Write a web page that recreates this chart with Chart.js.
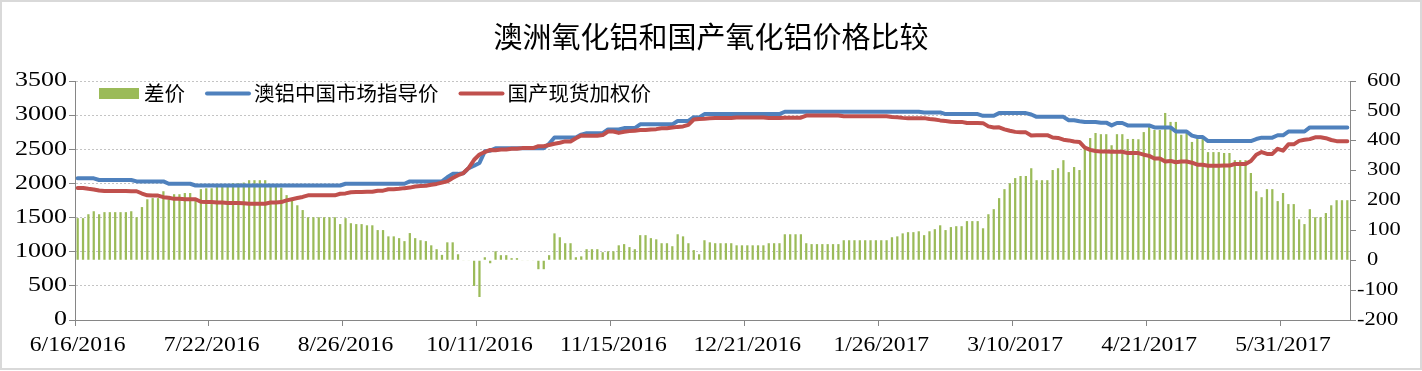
<!DOCTYPE html>
<html>
<head>
<meta charset="utf-8">
<title>澳洲氧化铝和国产氧化铝价格比较</title>
<script src="https://cdn.jsdelivr.net/npm/chart.js@4.4.1/dist/chart.umd.min.js"></script>
<style>
  html, body { margin: 0; padding: 0; background: #fff; }
  canvas { display: block; }
</style>
</head>
<body>
<canvas id="myChart" width="1422" height="371"></canvas>
<script>
const chartTitle = "澳洲氧化铝和国产氧化铝价格比较";

// one label every 25 trading days
const tickLabels = ["6/16/2016", "7/22/2016", "8/26/2016", "10/11/2016", "11/15/2016",
                    "12/21/2016", "1/26/2017", "3/10/2017", "4/21/2017", "5/31/2017"];

const leftTicks = [0, 500, 1000, 1500, 2000, 2500, 3000, 3500];
const rightTicks = [-200, -100, 0, 100, 200, 300, 400, 500, 600];

const diffLabel = "差价";
const ausLabel = "澳铝中国市场指导价";
const domLabel = "国产现货加权价";

// 差价 (right axis)
const diffVals = [
  141,141,154,164,154,161,161,161,161,161,
  164,144,178,204,208,208,231,204,221,221,
  225,225,201,238,241,241,248,248,255,258,
  258,260,268,268,268,268,250,248,243,218,
  201,184,168,144,144,144,144,144,144,121,
  141,124,121,121,117,117,101,101,80,80,
  74,64,91,74,67,64,50,37,18,60,
  60,20,-2,-2,-86,-123,10,-10,30,17,
  17,7,7,-2,-2,-2,-30,-30,17,90,
  77,57,57,10,13,37,37,37,27,30,
  30,50,54,44,37,84,84,74,70,57,
  57,47,87,80,57,34,20,67,60,57,
  57,57,57,50,50,50,50,50,50,57,
  57,57,87,87,87,87,57,54,54,54,
  54,54,54,67,67,67,67,67,67,67,
  67,67,77,80,90,94,94,97,84,97,
  104,117,101,111,114,114,131,131,131,107,
  154,171,208,238,258,275,282,282,308,268,
  268,268,302,308,335,295,312,302,375,409,
  426,422,422,385,422,422,406,406,405,429,
  446,436,436,493,463,463,420,436,396,406,
  406,362,362,362,359,359,335,335,335,292,
  231,211,238,238,198,225,188,188,137,121,
  171,144,144,158,184,201,201,201
];

// 澳铝中国市场指导价 (left axis)
const ausVals = [
  2075,2075,2075,2075,2050,2050,2050,2050,2050,2050,
  2050,2030,2030,2030,2030,2030,2030,1995,1995,1995,
  1995,1995,1970,1970,1970,1970,1970,1970,1970,1970,
  1970,1970,1970,1970,1970,1970,1970,1970,1970,1970,
  1970,1970,1970,1970,1970,1970,1970,1970,1970,1970,
  1995,1995,1995,1995,1995,1995,1995,1995,1995,1995,
  1995,1995,2030,2030,2030,2030,2030,2030,2030,2090,
  2140,2140,2150,2225,2260,2300,2470,2480,2515,2515,
  2515,2515,2515,2515,2515,2515,2515,2515,2580,2672,
  2672,2672,2672,2672,2715,2735,2735,2735,2735,2790,
  2790,2790,2810,2810,2810,2865,2865,2865,2865,2865,
  2865,2865,2915,2915,2915,2970,2965,3015,3015,3015,
  3015,3015,3015,3015,3015,3015,3015,3015,3015,3015,
  3015,3015,3050,3050,3050,3050,3050,3050,3050,3050,
  3050,3050,3050,3050,3050,3050,3050,3050,3050,3050,
  3050,3050,3050,3050,3050,3050,3050,3050,3040,3040,
  3040,3040,3015,3015,3015,3015,3015,3015,3015,2990,
  2990,2990,3030,3030,3030,3030,3030,3030,3010,2975,
  2975,2975,2975,2975,2975,2925,2925,2910,2900,2900,
  2900,2890,2890,2850,2885,2885,2850,2850,2850,2850,
  2850,2820,2820,2820,2820,2760,2760,2760,2700,2680,
  2680,2620,2620,2620,2620,2620,2620,2620,2620,2620,
  2650,2670,2670,2670,2705,2705,2760,2760,2760,2760,
  2820,2820,2820,2820,2820,2820,2820,2820
];

// 国产现货加权价 (left axis)
const domVals = [
  1934,1934,1921,1911,1896,1889,1889,1889,1889,1889,
  1886,1886,1852,1826,1822,1822,1799,1791,1774,1774,
  1770,1770,1769,1732,1729,1729,1722,1722,1715,1712,
  1712,1710,1702,1702,1702,1702,1720,1722,1727,1752,
  1769,1786,1802,1826,1826,1826,1826,1826,1826,1849,
  1854,1871,1874,1874,1878,1878,1894,1894,1915,1915,
  1921,1931,1939,1956,1963,1966,1980,1993,2012,2030,
  2080,2120,2152,2227,2346,2423,2460,2490,2485,2498,
  2498,2508,2508,2517,2517,2517,2545,2545,2563,2582,
  2595,2615,2615,2662,2702,2698,2698,2698,2708,2760,
  2760,2740,2756,2766,2773,2781,2781,2791,2795,2808,
  2808,2818,2828,2835,2858,2936,2945,2948,2955,2958,
  2958,2958,2958,2965,2965,2965,2965,2965,2965,2958,
  2958,2958,2963,2963,2963,2963,2993,2996,2996,2996,
  2996,2996,2996,2983,2983,2983,2983,2983,2983,2983,
  2983,2983,2973,2970,2960,2956,2956,2953,2956,2943,
  2936,2923,2914,2904,2901,2901,2884,2884,2884,2883,
  2836,2819,2822,2792,2772,2755,2748,2748,2702,2707,
  2707,2707,2673,2667,2640,2630,2613,2608,2525,2491,
  2474,2468,2468,2465,2463,2463,2444,2444,2445,2421,
  2404,2365,2365,2320,2330,2310,2320,2320,2304,2274,
  2274,2258,2258,2258,2261,2261,2285,2285,2285,2328,
  2419,2459,2432,2432,2507,2480,2572,2572,2623,2639,
  2649,2676,2676,2662,2636,2619,2619,2619
];

const categories = diffVals.map(function(v, i) {
  return i % 25 === 0 ? tickLabels[i / 25] : "";
});

const axisGray = "#868686";
const numFont = '"Liberation Serif", "Times New Roman", serif';

function stretchText(ctx, text, x, y, align, sx) {
  ctx.save();
  ctx.translate(x, y);
  ctx.scale(sx, 1);
  ctx.textAlign = align;
  ctx.fillText(text, 0, 0);
  ctx.restore();
}

// title, axis numbers, legend and outer frame
const decor = {
  id: "decor",
  afterDraw: function(chart) {
    const ctx = chart.ctx;
    const a = chart.chartArea;
    const s = chart.scales;
    ctx.save();

    ctx.strokeStyle = "#d9d9d9";
    ctx.lineWidth = 2;
    ctx.strokeRect(1, 1, chart.width - 2, chart.height - 3);

    ctx.fillStyle = "#000";
    ctx.textBaseline = "middle";
    ctx.font = '29px "Noto Sans CJK SC"';
    ctx.textAlign = "center";
    ctx.fillText(chartTitle, chart.width / 2, 37);

    ctx.font = "20px " + numFont;
    leftTicks.forEach(function(v) {
      stretchText(ctx, String(v), a.left - 8, s.y.getPixelForValue(v), "right", 1.3);
    });
    ctx.font = "18px " + numFont;
    rightTicks.forEach(function(v) {
      const x = v < 0 ? a.right + 7 : a.right + 17;
      stretchText(ctx, String(v), x, s.y1.getPixelForValue(v), "left", 1.25);
    });
    ctx.font = "20px " + numFont;
    tickLabels.forEach(function(t, k) {
      stretchText(ctx, t, s.x.getPixelForValue(k * 25), a.bottom + 26, "center", 1.18);
    });

    // legend inside the plot
    ctx.font = '20.5px "Noto Sans CJK SC"';
    ctx.textAlign = "left";
    let x = a.left + 24;
    const y = a.top + 12.5;
    chart.data.datasets.forEach(function(ds, k) {
      if (ds.type === "bar") {
        ctx.fillStyle = ds.backgroundColor;
        ctx.fillRect(x, y - 5.5, 40, 11);
        x += 45;
      } else {
        ctx.strokeStyle = ds.borderColor;
        ctx.lineWidth = 4;
        ctx.lineCap = "round";
        ctx.beginPath();
        ctx.moveTo(x + 2, y);
        ctx.lineTo(x + 44, y);
        ctx.stroke();
        x += 49;
      }
      ctx.fillStyle = "#000";
      ctx.fillText(ds.label, x, y);
      x += ctx.measureText(ds.label).width + 20;
    });
    ctx.restore();
  }
};

let myChart;

function graficar(namechart) {
  const chartdata = {
    labels: categories,
    datasets: [
      {
        type: "bar",
        label: diffLabel,
        data: diffVals,
        yAxisID: "y1",
        backgroundColor: "#9BBB59",
        borderWidth: 0,
        barPercentage: 0.42,
        categoryPercentage: 1,
        order: 3
      },
      {
        type: "line",
        label: ausLabel,
        data: ausVals,
        yAxisID: "y",
        borderColor: "#4F81BD",
        backgroundColor: "#4F81BD",
        borderWidth: 4,
        pointRadius: 0,
        tension: 0,
        borderJoinStyle: "round",
        borderCapStyle: "round",
        order: 2
      },
      {
        type: "line",
        label: domLabel,
        data: domVals,
        yAxisID: "y",
        borderColor: "#C0504D",
        backgroundColor: "#C0504D",
        borderWidth: 4,
        pointRadius: 0,
        tension: 0,
        borderJoinStyle: "round",
        borderCapStyle: "round",
        order: 1
      }
    ]
  };

  myChart = new Chart(document.getElementById(namechart), {
    data: chartdata,
    plugins: [decor],
    options: {
      responsive: false,
      animation: false,
      devicePixelRatio: 1,
      layout: { padding: { top: 81, left: 0, right: 0, bottom: 0 } },
      plugins: { legend: { display: false }, tooltip: { enabled: false } },
      scales: {
        x: {
          type: "category",
          offset: true,
          ticks: { display: false, autoSkip: false },
          grid: {
            offset: true,
            drawOnChartArea: false,
            tickLength: 6,
            color: "rgba(0,0,0,0)",
            tickColor: function(c) { return c.index % 25 === 0 ? axisGray : "rgba(0,0,0,0)"; }
          },
          border: { color: axisGray },
          afterFit: function(scale) { scale.height = 51; }
        },
        y: {
          position: "left",
          min: 0,
          max: 3500,
          ticks: { display: false, stepSize: 500 },
          grid: {
            color: function(c) { return c.tick && c.tick.value === 0 ? "rgba(0,0,0,0)" : "#c4c4c4"; },
            tickColor: axisGray,
            tickLength: 6,
            tickBorderDash: []
          },
          border: { color: axisGray, dash: [2, 2] },
          afterFit: function(scale) { scale.width = 75; }
        },
        y1: {
          position: "right",
          min: -200,
          max: 600,
          ticks: { display: false, stepSize: 100 },
          grid: { drawOnChartArea: false, tickColor: axisGray, tickLength: 6 },
          border: { color: axisGray },
          afterFit: function(scale) { scale.width = 72; }
        }
      }
    }
  });
}

graficar("myChart");
</script>
</body>
</html>
